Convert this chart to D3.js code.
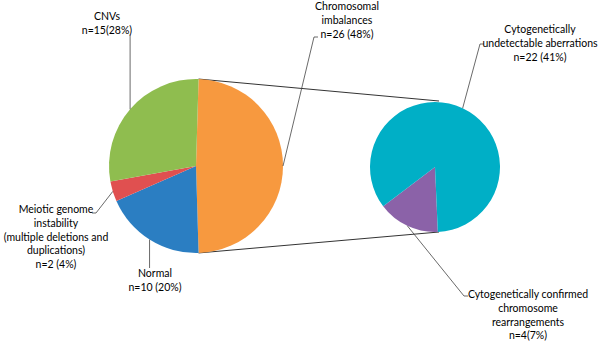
<!DOCTYPE html>
<html>
<head>
<meta charset="utf-8">
<script src="https://cdn.jsdelivr.net/npm/d3@7"></script>
<style>
  body { margin: 0; background: #fff; }
  text { font-family: Lato, "Open Sans", sans-serif; font-size: 10.5px; fill: #000; }
</style>
</head>
<body>
<div id="chart"></div>
<script>
// data: main pie (clockwise from top) and the split pie
const mainCats = ["Chromosomal imbalances", "Normal", "Meiotic genome instability", "CNVs"];
const mainValues = [26, 10, 2, 15];
const subCats = ["Cytogenetically confirmed chromosome rearrangements", "Cytogenetically undetectable aberrations"];
const subValues = [4, 22];

const mainLabels = [
  ["Chromosomal", "imbalances", "n=26 (48%)"],
  ["Normal", "n=10 (20%)"],
  ["Meiotic genome", "instability", "(multiple deletions and", "duplications)", "n=2 (4%)"],
  ["CNVs", "n=15(28%)"]
];
const subLabels = [
  ["Cytogenetically confirmed", "chromosome", "rearrangements", "n=4(7%)"],
  ["Cytogenetically", "undetectable aberrations", "n=22 (41%)"]
];

const width = 600, height = 342;
const mainColors = ["#f7993f", "#2b7ec2", "#e05050", "#8fbd4f"];
const subColors = ["#8b62a8", "#00afc6"];

const svg = d3.select("#chart").append("svg")
  .attr("width", width)
  .attr("height", height);

const toRad = a => a * Math.PI / 180;

// main pie
const main = { cx: 196, cy: 166, r: 87 };
const mainTotal = d3.sum(mainValues);
const splitSpan = 360 * mainValues[0] / mainTotal;
const mainStart = toRad(90 - splitSpan / 2);
const mainArcs = d3.pie().sort(null)
  .startAngle(mainStart).endAngle(mainStart + 2 * Math.PI)(mainValues);

// second pie
const sub = { cx: 435, cy: 167, r: 65 };
const subStart = toRad(177.5);
const subArcs = d3.pie().sort(null)
  .startAngle(subStart).endAngle(subStart + 2 * Math.PI)(subValues);

const arcMain = d3.arc().innerRadius(0).outerRadius(main.r);
const arcSub = d3.arc().innerRadius(0).outerRadius(sub.r);

const edge = (p, a) => [p.cx + p.r * Math.sin(a), p.cy - p.r * Math.cos(a)];

// connector lines between the pies
const c = svg.append("g").attr("stroke", "#333").attr("stroke-width", 1).attr("fill", "none");
const topA = edge(main, mainArcs[0].startAngle), botA = edge(main, mainArcs[0].endAngle);
const topB = [sub.cx + 4, sub.cy - sub.r - 1], botB = [sub.cx + 4, sub.cy + sub.r];
c.append("line").attr("x1", topA[0]).attr("y1", topA[1]).attr("x2", topB[0]).attr("y2", topB[1]);
c.append("line").attr("x1", botA[0]).attr("y1", botA[1]).attr("x2", botB[0]).attr("y2", botB[1]);

svg.append("g").attr("transform", `translate(${main.cx},${main.cy})`)
  .selectAll("path").data(mainArcs).join("path")
    .attr("d", arcMain)
    .attr("fill", (d, i) => mainColors[i]);

svg.append("g").attr("transform", `translate(${sub.cx},${sub.cy})`)
  .selectAll("path").data(subArcs).join("path")
    .attr("d", arcSub)
    .attr("fill", (d, i) => subColors[i]);

// label placement (center x, first baseline, leader start)
const mainPos = [
  { x: 347, y: 10, lead: [[318, 37], [314, 37]] },
  { x: 155, y: 277, lead: null },
  { x: 56, y: 213, lead: [[92, 213], [96, 213]] },
  { x: 107, y: 20, lead: null }
];
const subPos = [
  { x: 528, y: 298, lead: [[468, 296], [464, 296]] },
  { x: 540, y: 33, lead: [[484, 44], [480, 44]] }
];

const lineH = 13.8;
const leaders = svg.append("g").attr("stroke", "#444").attr("stroke-width", 0.8).attr("fill", "none");

function drawLabels(arcs, labels, pos, p) {
  arcs.forEach((d, i) => {
    const mid = (d.startAngle + d.endAngle) / 2;
    const e = edge(p, mid);
    let pts = pos[i].lead;
    if (!pts) {
      // vertical leader from the label to the slice edge
      const yStart = e[1] > pos[i].y ? pos[i].y + lineH + 1 : pos[i].y - 9;
      pts = [[e[0], yStart]];
    }
    leaders.append("path").attr("d", d3.line()([...pts, e]));
    const t = svg.append("text").attr("text-anchor", "middle");
    labels[i].forEach((s, k) => {
      t.append("tspan").attr("x", pos[i].x).attr("y", pos[i].y + k * lineH).text(s);
    });
  });
}

drawLabels(mainArcs, mainLabels, mainPos, main);
drawLabels(subArcs, subLabels, subPos, sub);
</script>
</body>
</html>
